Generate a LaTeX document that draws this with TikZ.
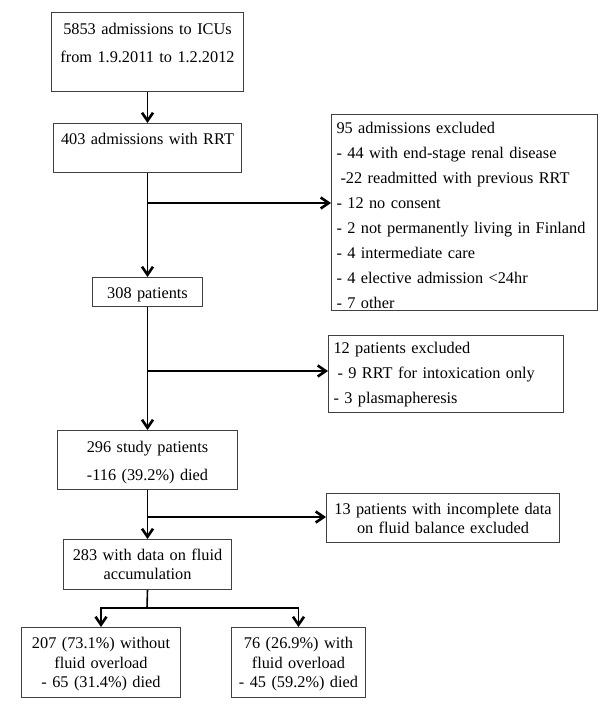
\documentclass[tikz,border=0pt]{standalone}
\usepackage{fontspec}
\setmainfont{Liberation Serif}
\usetikzlibrary{arrows.meta}

\tikzset{
  flowbox/.style={draw=black!75, line width=1pt, anchor=north west, inner xsep=5pt, inner ysep=0pt},
  arr/.style={-{Straight Barb[length=8pt,width=11pt,line width=2.6pt]}, line width=1.6pt}
}

\begin{document}
\begin{tikzpicture}[x=1pt, y=-1pt]
    \useasboundingbox (0,0) rectangle (600,709);
    % Main column of boxes
    \node[flowbox, text width=182pt, align=center, text height=22pt, text depth=57pt, font=\fontsize{16.3}{28}\selectfont] (admit) at (51,12) {5853 admissions to ICUs\\from 1.9.2011 to 1.2.2012};
    \node[flowbox, text width=178pt, align=center, text height=21pt, text depth=28pt, font=\fontsize{16.3}{25}\selectfont] (rrt) at (53,123) {403 admissions with RRT};
    \node[flowbox, text width=100pt, align=center, text height=21pt, text depth=8pt, font=\fontsize{16.3}{25}\selectfont] (pts) at (92,277) {308 patients};
    \node[flowbox, text width=170pt, align=center, text height=22pt, text depth=37pt, font=\fontsize{16.3}{28}\selectfont] (study) at (57,430) {296 study patients\\-116 (39.2\%) died};
    \node[flowbox, text width=158pt, align=center, text height=21pt, text depth=29pt, font=\fontsize{16.3}{19}\selectfont] (fluid) at (63,539) {283 with data on fluid\\accumulation};
    % Exclusion boxes
    \node[flowbox, text width=256pt, align=left, text height=19pt, text depth=177pt, font=\fontsize{16.3}{25}\selectfont] (exclA) at (331,114) {95 admissions excluded\\- 44 with end-stage renal disease\\\hspace*{4pt}-22 readmitted with previous RRT\\- 12 no consent\\- 2 not permanently living in Finland\\- 4 intermediate care\\- 4 elective admission <24hr\\- 7 other};
    \node[flowbox, text width=225pt, align=left, text height=18pt, text depth=59pt, font=\fontsize{16.3}{25}\selectfont] (exclB) at (328,335) {12 patients excluded\\\hspace*{4pt}- 9 RRT for intoxication only\\- 3 plasmapheresis};
    \node[flowbox, text width=223pt, align=center, text height=21pt, text depth=28pt, font=\fontsize{16.3}{19}\selectfont] (incompl) at (326,493) {13 patients with incomplete data\\on fluid balance excluded};
    % Outcome boxes
    \node[flowbox, text width=149pt, align=center, text height=21pt, text depth=49pt, font=\fontsize{16.3}{19.5}\selectfont] (noover) at (21,627) {207 (73.1\%) without\\fluid overload\\- 65 (31.4\%) died};
    \node[flowbox, text width=124pt, align=center, text height=21pt, text depth=49pt, font=\fontsize{16.3}{19.5}\selectfont] (over) at (231,627) {76 (26.9\%) with\\fluid overload\\- 45 (59.2\%) died};
    % Branch points
    \coordinate (b1) at (147,203);
    \coordinate (b2) at (147,371);
    \coordinate (b3) at (147,517);
    \coordinate (split) at (147,608);
    % Draw the arrows
    \draw[arr] (admit.south) -- (rrt.north);
    \draw[arr] (rrt.south) -- (pts.north);
    \draw[arr] (b1) -- (b1 -| exclA.west);
    \draw[arr] (pts.south) -- (study.north);
    \draw[arr] (b2) -- (b2 -| exclB.west);
    \draw[arr] (study.south) -- (fluid.north);
    \draw[arr] (b3) -- (b3 -| incompl.west);
    \draw[arr] (fluid.south) -- (split) -| (noover.north);
    \draw[arr] (split) -| (over.north);
\end{tikzpicture}
\end{document}
